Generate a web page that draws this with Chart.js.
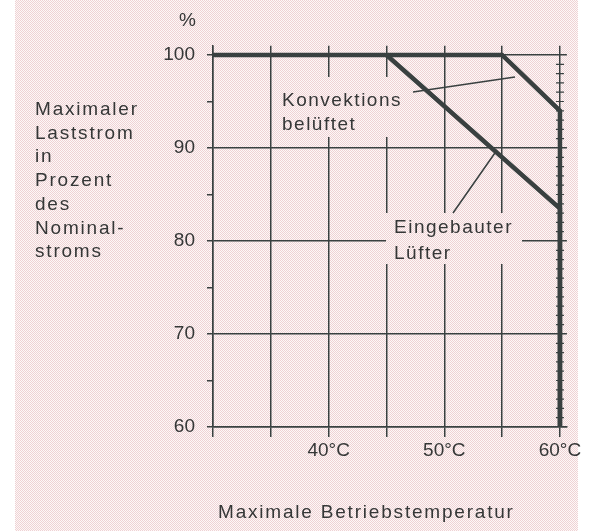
<!DOCTYPE html>
<html lang="de">
<head>
<meta charset="UTF-8">
<title>Maximaler Laststrom</title>
<script src="https://cdn.jsdelivr.net/npm/chart.js"></script>
<style>
  body { margin: 0; background: #fff; }
  #chart { display: block; }
</style>
</head>
<body>
<canvas id="chart" width="594" height="531"></canvas>
<script>
// Konvektion belüftet
const konvTemp = [30, 55, 60, 60];
const konvLast = [100, 100, 94, 60];
// Eingebauter Lüfter
const lueftTemp = [45, 60, 60];
const lueftLast = [100, 83.5, 60];

const xTickLabels = { 40: '40°C', 50: '50°C', 60: '60°C' };
const yTickLabels = [60, 70, 80, 90, 100];
const yTitle = ['Maximaler', 'Laststrom', 'in', 'Prozent', 'des', 'Nominal-', 'stroms'];
const xTitle = 'Maximale Betriebstemperatur';

const ink = '#394040';
const textInk = '#353737';
const fontFamily = '"Liberation Sans", Arial, sans-serif';

// pink halftone paper
const tile = document.createElement('canvas');
tile.width = 4; tile.height = 4;
const tc = tile.getContext('2d');
tc.fillStyle = '#fdf8f8';
tc.fillRect(0, 0, 4, 4);
tc.fillStyle = '#efd2d4';
for (let i = 0; i < 4; i++) {
  for (let j = 0; j < 4; j++) {
    if ((i + j) % 2 === 0) tc.fillRect(i, j, 1, 1);
  }
}

const ctx = document.getElementById('chart').getContext('2d');
const paper = ctx.createPattern(tile, 'repeat');

function textBlock(c, lines, x, y, lh) {
  lines.forEach((t, i) => c.fillText(t, x, y + i * lh));
}

const paperPlugin = {
  id: 'paper',
  beforeDraw(chart) {
    const c = chart.ctx;
    c.save();
    c.fillStyle = '#ffffff';
    c.fillRect(0, 0, chart.width, chart.height);
    c.fillStyle = paper;
    c.fillRect(15, 0, 563, chart.height);
    c.restore();
  },
  beforeDatasetsDraw(chart) {
    // labels inside the grid blank out the lines behind them
    const c = chart.ctx;
    c.save();
    c.fillStyle = paper;
    c.fillRect(279, 77, 133, 60);
    c.fillRect(386, 213, 136, 51);
    c.fillStyle = textInk;
    c.font = '19px ' + fontFamily;
    c.letterSpacing = '1.5px';
    c.textAlign = 'left';
    c.textBaseline = 'alphabetic';
    textBlock(c, ['Konvektions', 'belüftet'], 282, 106, 24);
    textBlock(c, ['Eingebauter', 'Lüfter'], 394, 233, 26);
    c.restore();
  },
  afterDatasetsDraw(chart) {
    const c = chart.ctx;
    const xs = chart.scales.x, ys = chart.scales.y;
    c.save();
    // pointer lines
    c.strokeStyle = ink;
    c.lineWidth = 1.5;
    c.beginPath();
    c.moveTo(413, 92); c.lineTo(515, 77);
    c.moveTo(453, 213); c.lineTo(497, 150);
    c.stroke();
    // small ticks on the 60 °C axis
    const xr = xs.getPixelForValue(60);
    c.lineWidth = 1.2;
    c.beginPath();
    for (let v = 61; v < 100; v++) {
      if (v % 10 === 0) continue;
      const py = ys.getPixelForValue(v);
      c.moveTo(xr - 4, py); c.lineTo(xr + 4, py);
    }
    c.stroke();
    // axis titles
    c.fillStyle = textInk;
    c.font = '19px ' + fontFamily;
    c.letterSpacing = '1.8px';
    c.textAlign = 'left';
    textBlock(c, yTitle, 35, 115, 23.7);
    c.fillText(xTitle, 218, 518);
    c.letterSpacing = '0px';
    c.textAlign = 'right';
    c.fillText('%', 196, 26);
    c.restore();
  }
};

Chart.defaults.font.family = fontFamily;
Chart.defaults.font.size = 19;
Chart.defaults.color = textInk;

new Chart(ctx, {
  type: 'line',
  data: {
    datasets: [
      {
        label: 'Konvektion belüftet',
        data: konvTemp.map((t, i) => ({ x: t, y: konvLast[i] })),
        borderColor: ink,
        borderWidth: 4.5,
        pointRadius: 0,
        fill: false,
        tension: 0
      },
      {
        label: 'Eingebauter Lüfter',
        data: lueftTemp.map((t, i) => ({ x: t, y: lueftLast[i] })),
        borderColor: ink,
        borderWidth: 4.5,
        pointRadius: 0,
        fill: false,
        tension: 0
      }
    ]
  },
  options: {
    responsive: false,
    devicePixelRatio: 1,
    animation: false,
    events: [],
    layout: { padding: { top: 45.7, right: 27.1, left: 0, bottom: 0 } },
    plugins: {
      legend: { display: false },
      tooltip: { enabled: false }
    },
    scales: {
      x: {
        type: 'linear',
        min: 30,
        max: 60.6,
        afterFit(scale) { scale.height = 104; },
        afterBuildTicks(scale) {
          scale.ticks = [30, 35, 40, 45, 50, 55, 60].map(v => ({ value: v }));
        },
        ticks: {
          autoSkip: false,
          maxRotation: 0,
          padding: 2,
          callback: v => xTickLabels[v] || ''
        },
        grid: {
          color: ink,
          lineWidth: 1.5,
          tickLength: 10,
          tickColor: ink,
          tickWidth: 1.5
        },
        border: { display: true, color: ink, width: 1.5 }
      },
      y: {
        type: 'linear',
        min: 60,
        max: 101,
        afterFit(scale) { scale.width = 213; },
        afterBuildTicks(scale) {
          const t = [];
          for (let v = 60; v <= 100; v += 5) t.push({ value: v });
          scale.ticks = t;
        },
        ticks: {
          autoSkip: false,
          padding: 12,
          callback: v => yTickLabels.includes(v) ? String(v) : ''
        },
        grid: {
          color: c => (c.tick && c.tick.value % 10 === 0) ? ink : 'rgba(0,0,0,0)',
          lineWidth: 1.5,
          tickLength: 6,
          tickColor: ink,
          tickWidth: 1.5
        },
        border: { display: true, color: ink, width: 1.5 }
      }
    }
  },
  plugins: [paperPlugin]
});
</script>
</body>
</html>
